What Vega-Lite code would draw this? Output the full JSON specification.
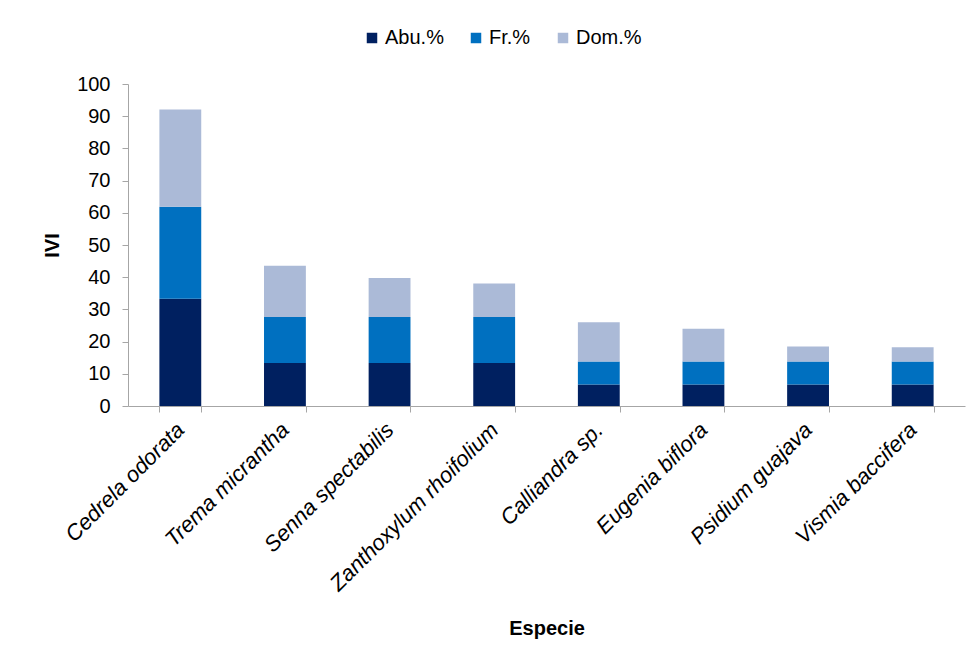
{
  "$schema": "https://vega.github.io/schema/vega-lite/v6.json",
  "width": 837,
  "height": 322,
  "autosize": "none",
  "padding": {"left": 128, "top": 84, "right": 11, "bottom": 258},
  "background": "#ffffff",
  "config": {
    "font": "Liberation Sans",
    "view": {"stroke": null}
  },
  "data": {
    "values": [
      {"especie": "Cedrela odorata", "componente": "Abu.%", "valor": 33.33},
      {"especie": "Cedrela odorata", "componente": "Fr.%", "valor": 28.57},
      {"especie": "Cedrela odorata", "componente": "Dom.%", "valor": 30.2},
      {"especie": "Trema micrantha", "componente": "Abu.%", "valor": 13.33},
      {"especie": "Trema micrantha", "componente": "Fr.%", "valor": 14.29},
      {"especie": "Trema micrantha", "componente": "Dom.%", "valor": 15.9},
      {"especie": "Senna spectabilis", "componente": "Abu.%", "valor": 13.33},
      {"especie": "Senna spectabilis", "componente": "Fr.%", "valor": 14.29},
      {"especie": "Senna spectabilis", "componente": "Dom.%", "valor": 12.1},
      {"especie": "Zanthoxylum rhoifolium", "componente": "Abu.%", "valor": 13.33},
      {"especie": "Zanthoxylum rhoifolium", "componente": "Fr.%", "valor": 14.29},
      {"especie": "Zanthoxylum rhoifolium", "componente": "Dom.%", "valor": 10.4},
      {"especie": "Calliandra sp.", "componente": "Abu.%", "valor": 6.67},
      {"especie": "Calliandra sp.", "componente": "Fr.%", "valor": 7.14},
      {"especie": "Calliandra sp.", "componente": "Dom.%", "valor": 12.2},
      {"especie": "Eugenia biflora", "componente": "Abu.%", "valor": 6.67},
      {"especie": "Eugenia biflora", "componente": "Fr.%", "valor": 7.14},
      {"especie": "Eugenia biflora", "componente": "Dom.%", "valor": 10.2},
      {"especie": "Psidium guajava", "componente": "Abu.%", "valor": 6.67},
      {"especie": "Psidium guajava", "componente": "Fr.%", "valor": 7.14},
      {"especie": "Psidium guajava", "componente": "Dom.%", "valor": 4.7},
      {"especie": "Vismia baccifera", "componente": "Abu.%", "valor": 6.67},
      {"especie": "Vismia baccifera", "componente": "Fr.%", "valor": 7.14},
      {"especie": "Vismia baccifera", "componente": "Dom.%", "valor": 4.4}
    ]
  },
  "transform": [
    {"calculate": "indexof(['Abu.%', 'Fr.%', 'Dom.%'], datum.componente)", "as": "orden_pila"}
  ],
  "mark": {"type": "bar"},
  "encoding": {
    "x": {
      "field": "especie",
      "type": "nominal",
      "sort": null,
      "scale": {"paddingInner": 0.6, "paddingOuter": 0.3},
      "axis": {
        "title": "Especie",
        "titleFontSize": 20,
        "titleFontWeight": "bold",
        "titleColor": "#000000",
        "titleY": 222,
        "titleBaseline": "middle",
        "labelAngle": -45,
        "labelAlign": "right",
        "labelBaseline": "middle",
        "labelFontSize": 22,
        "labelFontStyle": "italic",
        "labelColor": "#000000",
        "labelPadding": 14,
        "labelLimit": 400,
        "tickBand": "extent",
        "tickSize": 6,
        "tickColor": "#a6a6a6",
        "domainColor": "#a6a6a6"
      }
    },
    "y": {
      "field": "valor",
      "type": "quantitative",
      "stack": "zero",
      "scale": {"domain": [0, 100], "nice": false},
      "axis": {
        "title": "IVI",
        "titleFontSize": 20,
        "titleFontWeight": "bold",
        "titleColor": "#000000",
        "titlePadding": 14,
        "values": [0, 10, 20, 30, 40, 50, 60, 70, 80, 90, 100],
        "grid": false,
        "labelFontSize": 20,
        "labelColor": "#000000",
        "labelPadding": 12,
        "tickSize": 6,
        "tickColor": "#a6a6a6",
        "domainColor": "#a6a6a6"
      }
    },
    "order": {"field": "orden_pila", "type": "quantitative", "sort": "ascending"},
    "color": {
      "field": "componente",
      "type": "nominal",
      "scale": {
        "domain": ["Abu.%", "Fr.%", "Dom.%"],
        "range": ["#002060", "#0070c0", "#abbad7"]
      },
      "legend": {
        "title": null,
        "orient": "none",
        "direction": "horizontal",
        "legendX": 234,
        "legendY": -56,
        "symbolType": "square",
        "symbolSize": 110,
        "symbolStrokeWidth": 0,
        "labelFontSize": 20,
        "labelColor": "#000000",
        "labelOffset": 3,
        "columnPadding": 22
      }
    }
  }
}
